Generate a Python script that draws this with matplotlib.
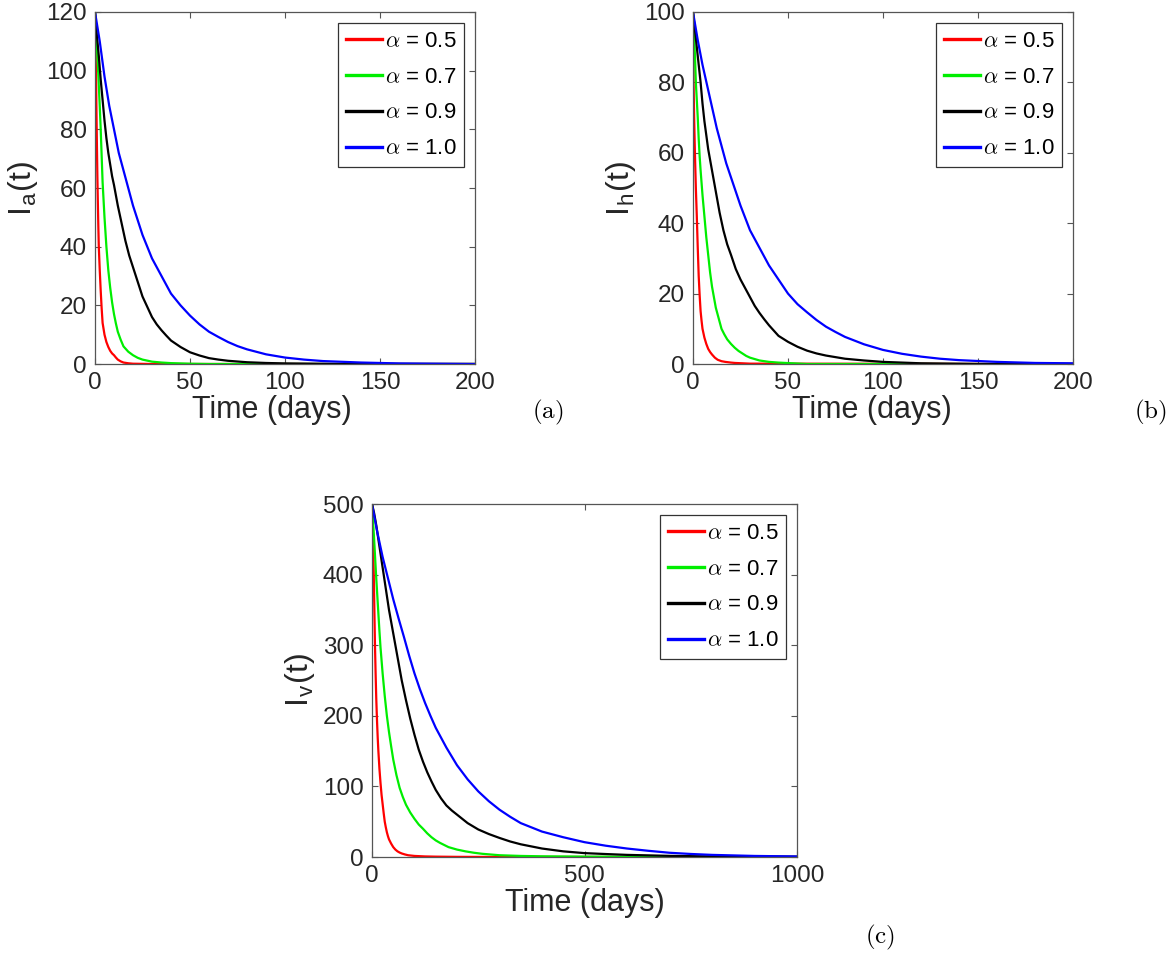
import numpy as np
import matplotlib
matplotlib.use("Agg")
import matplotlib.pyplot as plt

plt.rcParams["font.family"] = ["Liberation Sans", "DejaVu Sans"]
plt.rcParams["mathtext.fontset"] = "cm"

# ---------------------------------------------------------------------------
# data (time in days, value)
# ---------------------------------------------------------------------------
alphas = ["0.5", "0.7", "0.9", "1.0"]
colors = ["#ff0000", "#00ee00", "#000000", "#0000ff"]

# panel (a): I_a(t)
ta_red = [0, 0.25, 0.5, 0.75, 1, 1.25, 1.5, 1.75, 2, 2.5, 3, 3.5, 4, 4.5, 5, 6, 7, 8, 9, 10,
          11, 12, 13.5, 15, 17.5, 20, 30, 200]
ia_red = [120, 110, 100, 87, 75, 64, 55, 47, 40, 32, 25, 19, 14, 12, 10, 7.5, 5.8, 4.5, 3.6, 3,
          2.2, 1.5, 0.9, 0.5, 0.25, 0.1, 0, 0]
ta_green = [0, 0.5, 1, 1.5, 2, 2.5, 3, 3.5, 4, 4.5, 5, 6, 7, 8, 9, 10, 11, 12, 13.5, 15,
            17.5, 20, 22.5, 25, 30, 35, 40, 50, 60, 200]
ia_green = [120, 114, 108, 102, 95, 88, 80, 71, 62, 56, 50, 40, 32, 26, 21, 17, 13.8, 11, 8.3, 6,
            4.2, 3, 2.1, 1.5, 0.8, 0.5, 0.3, 0.1, 0, 0]
ta_black = [0, 1, 2, 3, 4, 5, 6, 7, 8, 9, 10, 12, 14, 16, 18, 20, 22.5, 25, 27.5, 30,
            32.5, 35, 37.5, 40, 45, 50, 55, 60, 65, 70, 80, 90, 100, 130, 200]
ia_black = [120, 112, 105, 97, 90, 83, 77, 72, 68, 64, 61, 54, 48, 42, 37, 33, 28, 23, 19.5, 16,
            13.5, 11.5, 9.7, 8, 5.8, 4, 2.9, 2, 1.5, 1.1, 0.6, 0.35, 0.2, 0, 0]
ta_blue = [0, 2.5, 5, 7.5, 10, 12.5, 15, 17.5, 20, 22.5, 25, 27.5, 30, 35, 40, 45, 50, 55, 60,
           65, 70, 75, 80, 90, 100, 110, 120, 140, 160, 180, 200]
ia_blue = [120, 110, 98, 88, 80, 72, 66, 60, 54, 49, 44, 40, 36, 30, 24, 20, 16.5, 13.5, 11,
           9.2, 7.5, 6.1, 5, 3.3, 2.2, 1.5, 1.0, 0.5, 0.2, 0.1, 0]

# panel (b): I_h(t)
tb_red = [0, 0.15, 0.3, 0.6, 1, 1.5, 2, 2.5, 3, 3.5, 4, 4.5, 5, 6, 7, 8, 9, 10, 11.5, 13,
          15, 17, 20, 22, 30, 200]
ih_red = [100, 90, 80, 70, 60, 50, 42, 33, 25, 19.5, 15, 12.3, 10, 7.5, 5.7, 4.3, 3.4, 2.7, 1.8, 1.2,
          0.8, 0.6, 0.4, 0.3, 0.1, 0]
tb_green = [0, 0.5, 1, 1.5, 2, 2.5, 3, 3.5, 4, 5, 6, 7, 8, 9, 10, 11, 12, 13.5, 15, 16.5,
            18, 20, 22, 24, 26, 28, 30, 35, 40, 45, 60, 200]
ih_green = [100, 94, 88, 80, 75, 70, 64, 59, 55, 48, 42, 36, 31, 26, 22, 19, 16, 13, 10, 8.4,
            7, 5.7, 4.6, 3.7, 3, 2.3, 1.8, 1, 0.6, 0.4, 0, 0]
tb_black = [0, 1, 2, 3, 4, 5, 6, 7, 8, 9, 10, 12, 14, 16, 18, 20, 22.5, 25, 27.5, 30,
            32.5, 35, 37.5, 40, 45, 50, 55, 60, 65, 70, 80, 90, 100, 110, 120, 150, 200]
ih_black = [100, 95, 90, 85, 80, 74, 69, 65, 61, 58, 55, 49, 43, 38, 34, 31, 27, 24, 21.5, 19,
            16.5, 14.5, 12.7, 11, 8, 6.3, 4.9, 3.8, 3, 2.4, 1.5, 1, 0.6, 0.4, 0.2, 0, 0]
tb_blue = [0, 2.5, 5, 7.5, 10, 12.5, 15, 17.5, 20, 22.5, 25, 27.5, 30, 35, 40, 45, 50, 55, 60,
           65, 70, 75, 80, 90, 100, 110, 120, 130, 140, 160, 180, 200]
ih_blue = [100, 92, 85, 79, 73, 67, 62, 57, 53, 49, 45, 41.5, 38, 33, 28, 24, 20, 17, 14.7,
           12.5, 10.6, 9.1, 7.7, 5.6, 4, 2.9, 2.1, 1.5, 1.1, 0.6, 0.3, 0.2]

# panel (c): I_v(t)
tc_red = [0, 1, 2, 3, 4, 5, 6, 7, 8.5, 10, 11, 12, 13.5, 15, 17.5, 20, 22.5, 25, 27.5, 30,
          32.5, 35, 37.5, 40, 45, 50, 55, 60, 65, 70, 77.5, 85, 100, 125, 150, 200, 300, 1000]
iv_red = [500, 475, 450, 428, 405, 370, 335, 300, 260, 225, 207, 190, 168, 150, 125, 105, 88, 75, 62, 50,
          42, 35, 29.5, 25, 19, 14, 10.5, 8, 6.3, 5, 3.6, 2.5, 1.5, 0.8, 0.5, 0.2, 0.05, 0]
tc_green = [0, 2.5, 5, 7.5, 10, 12.5, 15, 17.5, 20, 25, 30, 35, 40, 45, 50, 57.5, 65, 72.5, 80, 90,
            100, 110, 120, 130, 140, 150, 160, 170, 180, 200, 220, 240, 260, 300, 350, 400, 500, 1000]
iv_green = [500, 475, 450, 422, 395, 370, 345, 320, 297, 260, 228, 200, 177, 157, 138, 116, 98, 85, 74, 63,
            54, 46, 40, 33.5, 28, 23.5, 20, 17, 14, 10.5, 8, 6, 4.5, 2.5, 1.5, 1, 0.5, 0]
tc_black = [0, 5, 10, 17.5, 25, 32.5, 40, 47.5, 55, 62.5, 70, 80, 90, 100, 110, 120, 130, 140, 150,
            162.5, 175, 187.5, 200, 225, 250, 275, 300, 325, 350, 375, 400, 450, 500, 550, 600, 700,
            800, 1000]
iv_black = [500, 487, 470, 440, 410, 380, 350, 325, 300, 275, 250, 222, 196, 173, 152, 135, 120, 107, 95,
            83, 73, 66, 60, 48, 39, 32.5, 27, 22, 18, 15, 12, 8, 5.5, 4.2, 3, 1.6,
            0.8, 0.3]
tc_blue = [0, 12.5, 25, 37.5, 50, 62.5, 75, 87.5, 100, 112.5, 125, 137.5, 150, 175, 200, 225, 250,
           275, 300, 325, 350, 375, 400, 450, 500, 550, 600, 650, 700, 750, 800, 900, 1000]
iv_blue = [500, 460, 425, 395, 365, 338, 312, 285, 260, 238, 218, 200, 183, 155, 130, 110, 93,
           79, 67, 57, 48, 42, 36, 28, 21, 16, 12, 8.8, 6, 4.3, 3, 1.5, 0.8]

panels = [
    dict(rect=[95 / 1170, 1 - 364 / 955, 380 / 1170, 352 / 955],
         series=[(ta_red, ia_red), (ta_green, ia_green), (ta_black, ia_black), (ta_blue, ia_blue)],
         xlim=(0, 200), xticks=[0, 50, 100, 150, 200],
         ylim=(0, 120), yticks=[0, 20, 40, 60, 80, 100, 120],
         ylabel=r"I$_\mathregular{a}$(t)", xlab_x=0.465, tag="(a)", tagxy=(548, 412)),
    dict(rect=[693 / 1170, 1 - 364 / 955, 380 / 1170, 352 / 955],
         series=[(tb_red, ih_red), (tb_green, ih_green), (tb_black, ih_black), (tb_blue, ih_blue)],
         xlim=(0, 200), xticks=[0, 50, 100, 150, 200],
         ylim=(0, 100), yticks=[0, 20, 40, 60, 80, 100],
         ylabel=r"I$_\mathregular{h}$(t)", xlab_x=0.47, tag="(b)", tagxy=(1150, 412)),
    dict(rect=[372 / 1170, 1 - 857 / 955, 425 / 1170, 353 / 955],
         series=[(tc_red, iv_red), (tc_green, iv_green), (tc_black, iv_black), (tc_blue, iv_blue)],
         xlim=(0, 1000), xticks=[0, 500, 1000],
         ylim=(0, 500), yticks=[0, 100, 200, 300, 400, 500],
         ylabel=r"I$_\mathregular{v}$(t)", xlab_x=0.5, tag="(c)", tagxy=(880, 937)),
]

fig = plt.figure(figsize=(11.7, 9.55), dpi=100)
txt = "#262626"

for p in panels:
    ax = fig.add_axes(p["rect"])
    for (t, v), c, a in zip(p["series"], colors, alphas):
        ax.plot(t, v, color=c, lw=1.6, label=rf"$\alpha$ = {a}")
    ax.set_xlim(*p["xlim"]); ax.set_ylim(*p["ylim"])
    ax.set_xticks(p["xticks"]); ax.set_yticks(p["yticks"])
    ax.tick_params(direction="in", top=True, right=True, length=4,
                   width=0.8, colors="#555555", labelcolor=txt, labelsize=17.5, pad=6)
    for s in ax.spines.values():
        s.set_color("#555555"); s.set_linewidth(0.9)
    ax.set_xlabel("Time (days)", fontsize=22, color=txt)
    ax.xaxis.set_label_coords(p["xlab_x"], -0.088)
    ax.set_ylabel(p["ylabel"], fontsize=23, color=txt, labelpad=4)
    leg = ax.legend(loc="upper right", fontsize=16, handlelength=1.65,
                    handletextpad=0.1, labelspacing=0.67, borderpad=0.34,
                    borderaxespad=0.5, fancybox=False, framealpha=1)
    leg.get_frame().set_edgecolor("#333333"); leg.get_frame().set_linewidth(0.9)
    for ln in leg.get_lines():
        ln.set_linewidth(2.4)
    fig.text(p["tagxy"][0] / 1170, 1 - p["tagxy"][1] / 955,
             r"$\mathrm{" + p["tag"] + "}$", fontsize=18,
             ha="center", va="center")

fig.savefig("out.png", dpi=100)
